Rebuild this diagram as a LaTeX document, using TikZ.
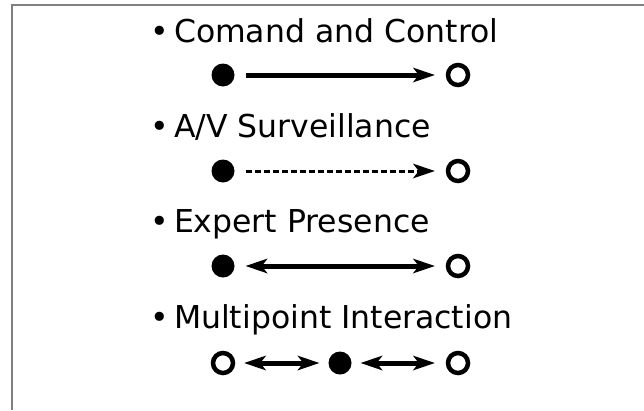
\documentclass[tikz,border=0pt]{standalone}
\usepackage{fontspec}
\setmainfont{DejaVu Sans}
\usetikzlibrary{arrows.meta}

\tikzset{
  item/.style={anchor=base west, inner sep=0pt, font=\fontsize{31.5}{36}\selectfont},
  src/.style={circle, fill=black, inner sep=0pt, minimum size=23pt},
  dst/.style={circle, draw=black, line width=4.5pt, inner sep=0pt, minimum size=20pt},
  hd/.tip={Stealth[length=22pt, width=15pt, inset=6pt, line width=0pt]},
  link/.style={line width=5pt, shorten <=11pt, shorten >=11pt}
}

\begin{document}
\begin{tikzpicture}[x=1pt, y=-1pt]
\useasboundingbox (0,0) rectangle (644,410);
\draw[gray, line width=2pt] (12,410) -- (12,5) -- (644,5);

% headings
\node[item] (t1) at (150,42) {•\,Comand and Control};
\node[item] (t2) at (150,137) {•\,A/V Surveillance};
\node[item] (t3) at (150,232) {•\,Expert Presence};
\node[item] (t4) at (150,328) {•\,Multipoint Interaction};

% command and control
\node[src] (a1) at (223,75) {};
\node[dst] (b1) at (458,75) {};
\draw[link, -hd] (a1) -- (b1);

% surveillance
\node[src] (a2) at (223,171) {};
\node[dst] (b2) at (458,171) {};
\draw[link, line width=3pt, dash pattern=on 6pt off 3pt, -hd] (a2) -- (b2);

% expert presence
\node[src] (a3) at (223,266) {};
\node[dst] (b3) at (458,266) {};
\draw[link, hd-hd] (a3) -- (b3);

% multipoint
\node[dst] (c4) at (223,363) {};
\node[src] (a4) at (340,363) {};
\node[dst] (b4) at (458,363) {};
\draw[link, shorten <=9pt, shorten >=9pt, hd-hd] (c4) -- (a4);
\draw[link, shorten <=9pt, shorten >=11pt, hd-hd] (a4) -- (b4);
\end{tikzpicture}
\end{document}
